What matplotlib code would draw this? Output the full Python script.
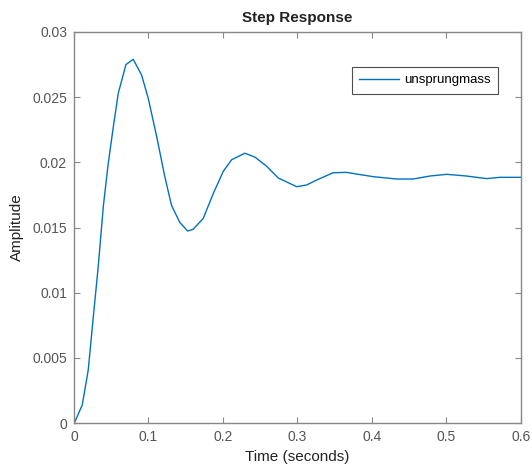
import numpy as np
import matplotlib.pyplot as plt

plt.rcParams['font.family'] = ['Liberation Sans', 'DejaVu Sans']

# step response
t = [0.0, 0.0013, 0.0111, 0.0192, 0.026, 0.0326, 0.0394, 0.046, 0.0528, 0.0595,
     0.0698, 0.0796, 0.0908, 0.0998, 0.111, 0.122, 0.131, 0.142, 0.1526, 0.160,
     0.1736, 0.187, 0.2004, 0.2117, 0.2295, 0.243, 0.2587, 0.2743, 0.299, 0.3123,
     0.3258, 0.348, 0.366, 0.3795, 0.402, 0.433, 0.4555, 0.478, 0.5005, 0.527,
     0.554, 0.572, 0.6]
amp = [0.0, 0.0001, 0.00138, 0.00407, 0.00816, 0.0120, 0.0166, 0.0199, 0.0227, 0.0253,
       0.0275, 0.0279, 0.0267, 0.0249, 0.0220, 0.0189, 0.0167, 0.0154, 0.01473, 0.01486,
       0.0157, 0.0176, 0.0193, 0.0202, 0.0207, 0.0204, 0.0197, 0.0188, 0.01813, 0.01826,
       0.01864, 0.0192, 0.01923, 0.0191, 0.0189, 0.01872, 0.01872, 0.01895, 0.01908, 0.01895,
       0.01875, 0.01885, 0.01885]

xticks = [0, 0.1, 0.2, 0.3, 0.4, 0.5, 0.6]
xticklabels = ['0', '0.1', '0.2', '0.3', '0.4', '0.5', '0.6']
yticks = [0, 0.005, 0.01, 0.015, 0.02, 0.025, 0.03]
yticklabels = ['0', '0.005', '0.01', '0.015', '0.02', '0.025', '0.03']

fig = plt.figure(figsize=(5.32, 4.76), dpi=100)
ax = fig.add_axes([0.139, 0.1113, 0.840, 0.8215])
ax.plot(t, amp, color='#0072BD', lw=1.0, label='unsprungmass')

ax.set_xlim(0, 0.6)
ax.set_ylim(0, 0.03)
ax.set_xticks(xticks)
ax.set_xticklabels(xticklabels)
ax.set_yticks(yticks)
ax.set_yticklabels(yticklabels)
ax.tick_params(direction='in', length=4, width=0.8, colors='#888888',
               labelcolor='#555555', labelsize=10, top=True, right=True, pad=5)
for s in ax.spines.values():
    s.set_color('#888888')
    s.set_linewidth(1.0)

ax.set_title('Step Response', fontsize=11, fontweight='bold', color='#222222', pad=7)
ax.set_xlabel('Time (seconds)', fontsize=11, color='#222222', labelpad=4)
ax.set_ylabel('Amplitude', fontsize=11, color='#222222', labelpad=6)

leg = ax.legend(loc='upper right', bbox_to_anchor=(0.9485, 0.9105), fontsize=9.5,
                frameon=True, fancybox=False, handlelength=3.0, borderpad=0.55,
                handletextpad=0.4, borderaxespad=0)
leg.get_frame().set_edgecolor('#222222')
leg.get_frame().set_linewidth(0.8)

fig.savefig('out.png', dpi=100)
